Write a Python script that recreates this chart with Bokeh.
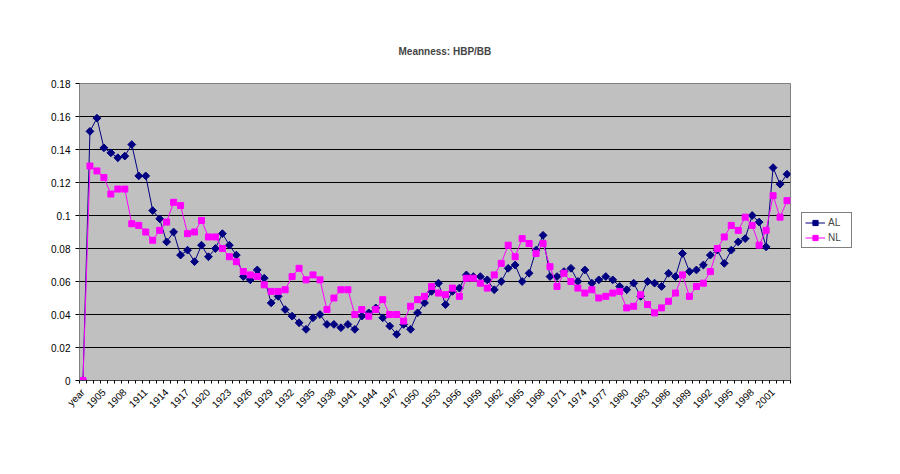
import math
from bokeh.plotting import figure
from bokeh.models import (Range1d, FixedTicker, NumeralTickFormatter, Legend,
                          LegendItem, ColumnDataSource)
from bokeh.embed import file_html
from bokeh.resources import INLINE

# ---- data -----------------------------------------------------------------
years = ["year"] + [str(y) for y in range(1903, 2004)]

al = [0.000, 0.151, 0.159, 0.141, 0.138, 0.135, 0.136, 0.143, 0.124, 0.124,
      0.103, 0.098, 0.084, 0.090, 0.076, 0.079, 0.072, 0.082, 0.075, 0.080,
      0.089, 0.082, 0.076, 0.063, 0.061, 0.067, 0.062, 0.047, 0.051, 0.043,
      0.039, 0.035, 0.031, 0.038, 0.040, 0.034, 0.034, 0.032, 0.034, 0.031,
      0.039, 0.041, 0.044, 0.038, 0.033, 0.028, 0.034, 0.031, 0.041, 0.047,
      0.054, 0.059, 0.046, 0.054, 0.056, 0.064, 0.063, 0.063, 0.061, 0.055,
      0.060, 0.068, 0.070, 0.060, 0.065, 0.079, 0.088, 0.063, 0.063, 0.066,
      0.068, 0.060, 0.067, 0.059, 0.061, 0.063, 0.061, 0.057, 0.055, 0.059,
      0.051, 0.060, 0.059, 0.057, 0.065, 0.063, 0.077, 0.066, 0.067, 0.070,
      0.076, 0.079, 0.071, 0.079, 0.084, 0.086, 0.100, 0.096, 0.081, 0.129,
      0.119, 0.125]

nl = [0.000, 0.130, 0.127, 0.123, 0.113, 0.116, 0.116, 0.095, 0.094, 0.090,
      0.085, 0.091, 0.096, 0.108, 0.106, 0.089, 0.090, 0.097, 0.087, 0.087,
      0.080, 0.075, 0.072, 0.066, 0.064, 0.063, 0.058, 0.054, 0.054, 0.055,
      0.063, 0.068, 0.061, 0.064, 0.061, 0.043, 0.050, 0.055, 0.055, 0.040,
      0.043, 0.039, 0.043, 0.049, 0.040, 0.040, 0.036, 0.045, 0.049, 0.051,
      0.057, 0.053, 0.052, 0.056, 0.051, 0.062, 0.062, 0.059, 0.056, 0.064,
      0.071, 0.082, 0.075, 0.086, 0.083, 0.077, 0.083, 0.069, 0.057, 0.065,
      0.060, 0.056, 0.053, 0.055, 0.050, 0.051, 0.053, 0.054, 0.044, 0.045,
      0.052, 0.046, 0.041, 0.044, 0.048, 0.053, 0.064, 0.051, 0.057, 0.059,
      0.066, 0.080, 0.087, 0.094, 0.091, 0.099, 0.094, 0.082, 0.091, 0.112,
      0.099, 0.109]

y_ticks = [0, 0.02, 0.04, 0.06, 0.08, 0.1, 0.12, 0.14, 0.16, 0.18]
series_names = ["AL", "NL"]
title_text = "Meanness: HBP/BB"

# ---- figure ---------------------------------------------------------------
FONT = "Liberation Sans"
n = len(years)
xs = list(range(n))
src = ColumnDataSource(dict(x=xs, year=years, al=al, nl=nl))

p = figure(frame_width=711, frame_height=297,
           output_backend="svg", toolbar_location=None,
           x_range=Range1d(-0.5, n - 0.5), y_range=Range1d(0, 0.18),
           min_border_left=79, min_border_right=110,
           min_border_top=83, min_border_bottom=94)

p.background_fill_color = "#c0c0c0"
p.border_fill_color = "#ffffff"
p.outline_line_color = "#808080"

# title
p.title.text = title_text
p.title.text_font = FONT
p.title.text_font_size = "10px"
p.title.text_font_style = "bold"
p.title.align = "left"
p.title.offset = 319
p.title.standoff = 54

# x axis
label_idx = list(range(0, n, 3))
p.xaxis.ticker = FixedTicker(ticks=label_idx,
                             minor_ticks=[i - 0.5 for i in range(n + 1)])
p.xaxis.major_label_overrides = {i: years[i] for i in label_idx}
p.xaxis.major_label_orientation = math.pi / 4
p.xaxis.major_tick_out = 0
p.xaxis.major_tick_in = 0
p.xaxis.minor_tick_out = 3
p.xaxis.minor_tick_in = 0
p.xaxis.minor_tick_line_color = "black"
p.xaxis.axis_line_color = "#404040"
p.xaxis.major_label_text_font = FONT
p.xaxis.major_label_text_font_size = "10px"
p.xaxis.major_label_text_color = "black"
p.xaxis.major_label_standoff = 7

# y axis
p.yaxis.ticker = FixedTicker(ticks=y_ticks, minor_ticks=[])
p.yaxis.formatter = NumeralTickFormatter(format="0.[00]")
p.yaxis.major_tick_out = 4
p.yaxis.major_tick_in = 0
p.yaxis.major_tick_line_color = "black"
p.yaxis.axis_line_color = "#808080"
p.yaxis.major_label_text_font = FONT
p.yaxis.major_label_text_font_size = "10px"
p.yaxis.major_label_text_color = "black"
p.yaxis.major_label_standoff = 5

p.xgrid.visible = False
p.ygrid.grid_line_color = "black"
p.ygrid.grid_line_width = 1

# series
r1 = p.line("x", "al", source=src, line_color="#000080", line_width=1)
r2 = p.scatter("x", "al", source=src, marker="square", angle=math.pi / 4,
               size=5.5, fill_color="#000080", line_color="#000080")
r3 = p.line("x", "nl", source=src, line_color="#ff00ff", line_width=1)
r4 = p.scatter("x", "nl", source=src, marker="square", size=6,
               fill_color="#ff00ff", line_color="#ff00ff")

legend = Legend(items=[LegendItem(label=series_names[0], renderers=[r1, r2]),
                       LegendItem(label=series_names[1], renderers=[r3, r4])],
                location=(11, 132))
legend.border_line_color = "black"
legend.border_line_width = 1
legend.background_fill_color = "white"
legend.background_fill_alpha = 1
legend.label_text_font = FONT
legend.label_text_font_size = "10px"
legend.padding = 3
legend.spacing = 2
legend.margin = 0
legend.glyph_width = 20
legend.glyph_height = 13
legend.label_height = 13
legend.label_standoff = 3
p.add_layout(legend, "right")

open("out.html", "w").write(file_html(p, INLINE))
